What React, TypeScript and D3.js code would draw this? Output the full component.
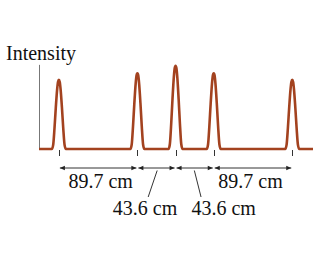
import React from "react";
import * as d3 from "d3";

// Peak positions (cm) and relative intensities
const peakPositions = [-133.3, -43.6, 0, 43.6, 133.3];
const peakHeights = [0.83, 0.91, 1.0, 0.91, 0.83];
// Peak profile: offset (cm) and fraction of peak height
const profileOffsets = [-8, -6.5, -5, -3.5, -2, -1, 0, 1, 2, 3.5, 5, 6.5, 8];
const profileValues = [0, 0.06, 0.3, 0.6, 0.86, 0.97, 1, 0.97, 0.86, 0.6, 0.3, 0.06, 0];
// Distance annotations between consecutive peaks
const distanceLabels = ["89.7 cm", "43.6 cm", "43.6 cm", "89.7 cm"];
const axisTitle = "Intensity";

const W = 320;
const H = 260;
const FONT = "'Liberation Serif', 'Times New Roman', serif";

export default function App() {
  const x = d3.scaleLinear().domain([-156, 157]).range([39, 313]);
  const y = d3.scaleLinear().domain([0, 1]).range([149, 65.7]);

  const pts: [number, number][] = [[-156, 0]];
  peakPositions.forEach((p, i) => {
    profileOffsets.forEach((o, j) => pts.push([p + o, profileValues[j] * peakHeights[i]]));
  });
  pts.push([157, 0]);
  const line = d3
    .line<[number, number]>()
    .x((d) => x(d[0]))
    .y((d) => y(d[1]))
    .curve(d3.curveMonotoneX);

  const arrowY = 168;
  const segs = peakPositions.slice(0, -1).map((p, i) => [p, peakPositions[i + 1]]);

  const arrowHead = (px: number, dir: number) => {
    const L = 5, Wd = 2.2;
    return `M${px},${arrowY} L${px - dir * L},${arrowY - Wd} L${px - dir * L},${arrowY + Wd} Z`;
  };

  return (
    <svg width={W} height={H} style={{ position: "absolute", left: 0, top: 0, background: "#fff" }}>
      <line x1={39.5} x2={39.5} y1={y(1.01)} y2={y(0)} stroke="#777" strokeWidth={1} />
      <text x={6} y={60} fontFamily={FONT} fontSize={20} fill="#111">
        {axisTitle}
      </text>
      {peakPositions.map((p, i) => (
        <line key={i} x1={Math.round(x(p)) + 0.5} x2={Math.round(x(p)) + 0.5} y1={150} y2={156} stroke="#333" strokeWidth={1} />
      ))}
      <path d={line(pts) || ""} fill="none" stroke="#a3421f" strokeWidth={2.6} strokeLinejoin="round" />
      {segs.map(([a, b], i) => {
        const xa = x(a) + 1, xb = x(b) - 1;
        return (
          <g key={i}>
            <line x1={xa} x2={xb} y1={arrowY} y2={arrowY} stroke="#333" strokeWidth={1} />
            <path d={arrowHead(xa, -1)} fill="#222" />
            <path d={arrowHead(xb, 1)} fill="#222" />
          </g>
        );
      })}
      {segs.map(([a, b], i) => {
        const mid = (x(a) + x(b)) / 2;
        const outer = i === 0 || i === segs.length - 1;
        if (outer) {
          return (
            <text key={i} x={mid + (i === 0 ? 2.5 : -2.5)} y={188.3} textAnchor="middle" fontFamily={FONT} fontSize={20} fill="#111">
              {distanceLabels[i]}
            </text>
          );
        }
        const left = i === 1;
        const lx = left ? mid - 11.5 : mid + 29;
        return (
          <g key={i}>
            <line x1={left ? mid + 0.7 : mid - 0.3} y1={170.5} x2={left ? mid - 8.3 : mid + 6.4} y2={197} stroke="#333" strokeWidth={1} />
            <text x={lx} y={215} textAnchor="middle" fontFamily={FONT} fontSize={20} fill="#111">
              {distanceLabels[i]}
            </text>
          </g>
        );
      })}
    </svg>
  );
}
